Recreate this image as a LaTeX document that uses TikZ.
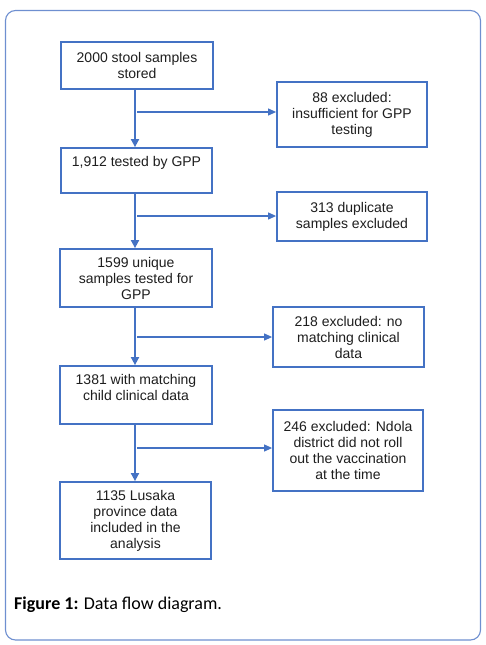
\documentclass[tikz,border=0pt]{standalone}
\usepackage{fontspec}
\setmainfont{Liberation Sans}
\newfontfamily\capfont{Carlito}
\usetikzlibrary{arrows.meta}
\definecolor{boxblue}{HTML}{4472C4}
\definecolor{frameblue}{HTML}{6E8FD0}
\definecolor{txt}{HTML}{1E1E1E}
\tikzset{
  box/.style={draw=boxblue, line width=1.8pt, fill=white, align=center, text=txt,
    font=\fontsize{14}{16}\selectfont, inner sep=0pt},
  vline/.style={draw=boxblue, line width=1.8pt, -{Triangle[length=8pt,width=8pt]}},
  hline/.style={draw=boxblue, line width=1.1pt, -{Triangle[length=8pt,width=7pt]}},
}
\begin{document}
\begin{tikzpicture}[x=1pt,y=-1pt]
\useasboundingbox (0,0) rectangle (485,645);
\draw[frameblue, line width=1.1pt, rounded corners=10pt] (5.5,10.5) rectangle (480.5,640);
% main column
\node[box, minimum width=152pt, minimum height=47pt] (b1) at (137,65.5) {2000 stool samples\\stored};
\node[box, minimum width=151pt, minimum height=45pt] (b2) at (136.5,170.5) {1,912 tested by GPP\\[2pt]\mbox{}};
\node[box, minimum width=152pt, minimum height=58pt] (b3) at (136,278) {1599 unique\\samples tested for\\GPP};
\node[box, minimum width=152pt, minimum height=58pt] (b4) at (136,395) {1381 with matching\\child clinical data\\\mbox{}};
\node[box, minimum width=151pt, minimum height=77pt] (b5) at (135.5,520.5) {1135 Lusaka\\province data\\included in the\\analysis};
% exclusion boxes
\node[box, minimum width=150pt, minimum height=65pt] (e1) at (352,114.5) {88 excluded:\\insufficient for GPP\\testing};
\node[box, minimum width=150pt, minimum height=49pt] (e2) at (352,216.5) {313 duplicate\\samples excluded};
\node[box, minimum width=151pt, minimum height=60pt] (e3) at (348.5,337) {218 excluded: no\\matching clinical\\data};
\node[box, minimum width=150pt, minimum height=81pt] (e4) at (348,450.5) {246 excluded: Ndola\\district did not roll\\out the vaccination\\at the time};
% spine
\coordinate (spine) at (135,0);
\coordinate (j1) at (137,112);
\coordinate (j2) at (137,216);
\coordinate (j3) at (137,337);
\coordinate (j4) at (137,448);
\draw[vline] (b1.south -| spine) -- (b2.north -| spine);
\draw[vline] (b2.south -| spine) -- (b3.north -| spine);
\draw[vline] (b3.south -| spine) -- (b4.north -| spine);
\draw[vline] (b4.south -| spine) -- (b5.north -| spine);
\draw[hline] (j1) -- (j1 -| e1.west);
\draw[hline] (j2) -- (j2 -| e2.west);
\draw[hline] (j3) -- (j3 -| e3.west);
\draw[hline] (j4) -- (j4 -| e4.west);
% caption
\node[anchor=base west, inner sep=0pt, font=\capfont\fontsize{18}{21}\selectfont] (cap) at (14,609) {\textbf{Figure 1:} Data flow diagram.};
\end{tikzpicture}
\end{document}
